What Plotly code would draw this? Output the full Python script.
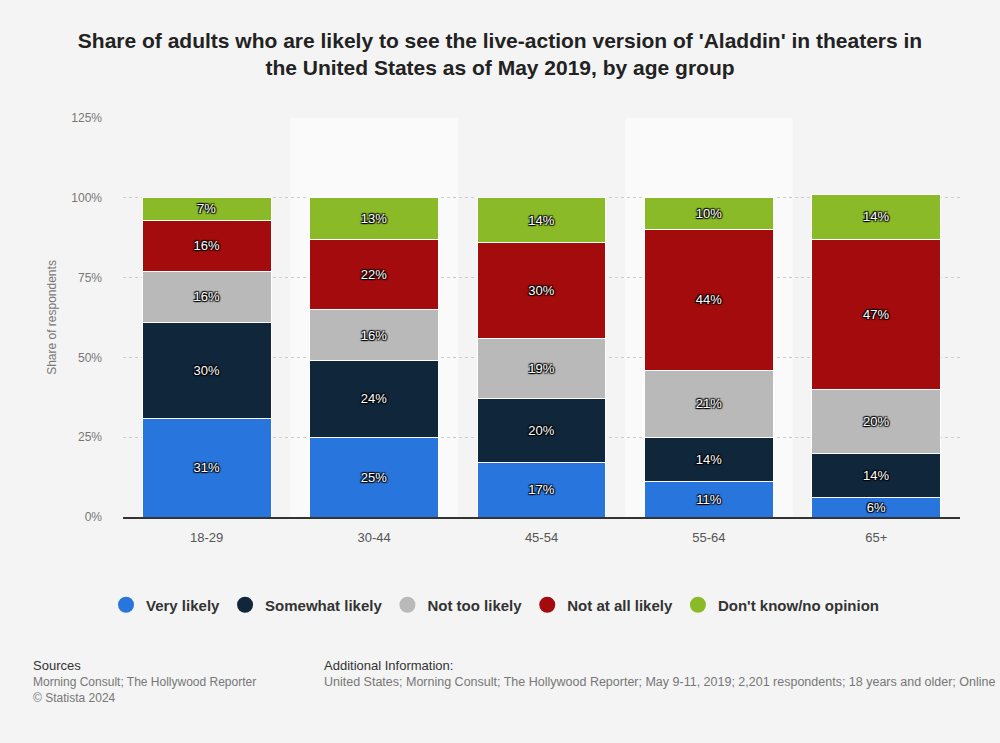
import plotly.graph_objects as go

categories = ["18-29", "30-44", "45-54", "55-64", "65+"]
very_likely = [31, 25, 17, 11, 6]
somewhat_likely = [30, 24, 20, 14, 14]
not_too_likely = [16, 16, 19, 21, 20]
not_at_all_likely = [16, 22, 30, 44, 47]
dont_know = [7, 13, 14, 10, 14]
y_ticks = [0, 25, 50, 75, 100, 125]

series = [
    ("Very likely", very_likely, "#2876dd"),
    ("Somewhat likely", somewhat_likely, "#10263b"),
    ("Not too likely", not_too_likely, "#b9b9b9"),
    ("Not at all likely", not_at_all_likely, "#a30b0c"),
    ("Don't know/no opinion", dont_know, "#8aba27"),
]

shadow = "-1px -1px 1px #000, 1px -1px 1px #000, -1px 1px 1px #000, 1px 1px 1px #000"

fig = go.Figure()
for name, vals, color in series:
    fig.add_trace(go.Bar(
        x=categories, y=vals, name=name, showlegend=False,
        marker=dict(color=color, line=dict(color="#ffffff", width=1)),
        text=[f"{v}%" for v in vals], texttemplate="%{text}",
        textposition="inside", insidetextanchor="middle",
        textangle=0, constraintext="none",
        textfont=dict(color="#ffffff", size=13, family="Liberation Sans, Arial, sans-serif", shadow=shadow),
        hoverinfo="skip",
    ))
for name, vals, color in series:
    fig.add_trace(go.Scatter(
        x=[None], y=[None], mode="markers", name=name,
        marker=dict(symbol="circle", size=16, color=color), hoverinfo="skip",
    ))

W, H = 1000, 743
L, R, T, B = 123, 40, 118, 226
pw, ph = W - L - R, H - T - B

def px(x):
    return (x - L) / pw

def py(y):
    return (H - B - y) / ph

shapes = []
for i in (1, 3):
    shapes.append(dict(type="rect", xref="x", yref="paper", x0=i - 0.5, x1=i + 0.5, y0=0, y1=1,
                       fillcolor="#fafafa", line=dict(width=0), layer="below"))

annotations = [
    dict(text="Sources", x=px(31), y=py(665), xref="paper", yref="paper", xanchor="left", yanchor="middle",
         showarrow=False, font=dict(size=13, color="#333333")),
    dict(text="Morning Consult; The Hollywood Reporter", x=px(31), y=py(682), xref="paper", yref="paper",
         xanchor="left", yanchor="middle", showarrow=False, font=dict(size=12, color="#777777")),
    dict(text="© Statista 2024", x=px(31), y=py(698), xref="paper", yref="paper",
         xanchor="left", yanchor="middle", showarrow=False, font=dict(size=12, color="#777777")),
    dict(text="Additional Information:", x=px(322), y=py(665), xref="paper", yref="paper",
         xanchor="left", yanchor="middle", showarrow=False, font=dict(size=13, color="#333333")),
    dict(text="United States; Morning Consult; The Hollywood Reporter; May 9-11, 2019; 2,201 respondents; 18 years and older; Online",
         x=px(322), y=py(682), xref="paper", yref="paper", xanchor="left", yanchor="middle",
         showarrow=False, font=dict(size=12.5, color="#777777")),
]

fig.update_layout(
    width=W, height=H,
    barmode="stack", bargap=0.23,
    hovermode=False,
    paper_bgcolor="#f4f4f4", plot_bgcolor="#f4f4f4",
    font=dict(family="Liberation Sans, Arial, sans-serif"),
    margin=dict(l=L, r=R, t=T, b=B, autoexpand=False),
    title=dict(
        text="<b>Share of adults who are likely to see the live-action version of 'Aladdin' in theaters in<br>the United States as of May 2019, by age group</b>",
        x=0.5, xanchor="center", y=1 - 48 / H, yanchor="middle",
        font=dict(size=21, color="#222222"),
    ),
    xaxis=dict(showline=True, linecolor="#333333", linewidth=1.5, ticks="", showgrid=False,
               tickfont=dict(size=13, color="#555555"), ticklabelstandoff=8, fixedrange=True),
    yaxis=dict(range=[0, 125], tickmode="array", tickvals=y_ticks, ticktext=[f"{v}%" for v in y_ticks],
               showgrid=True, gridcolor="#cccccc", griddash="dot", gridwidth=1, zeroline=False,
               tickfont=dict(size=12, color="#777777"), ticklabelstandoff=20, fixedrange=True,
               title=dict(text="Share of respondents", font=dict(size=12, color="#777777"), standoff=12)),
    legend=dict(orientation="h", x=px(495), xref="paper", xanchor="center", y=py(605), yanchor="middle",
                font=dict(size=15, color="#333333", weight="bold"), itemsizing="trace",
                bgcolor="rgba(0,0,0,0)", traceorder="normal", itemclick=False, itemdoubleclick=False),
    shapes=shapes,
    annotations=annotations,
    showlegend=True,
)

fig.write_html("out.html", config={"displayModeBar": False},
               post_script="document.body.style.margin='0';")
